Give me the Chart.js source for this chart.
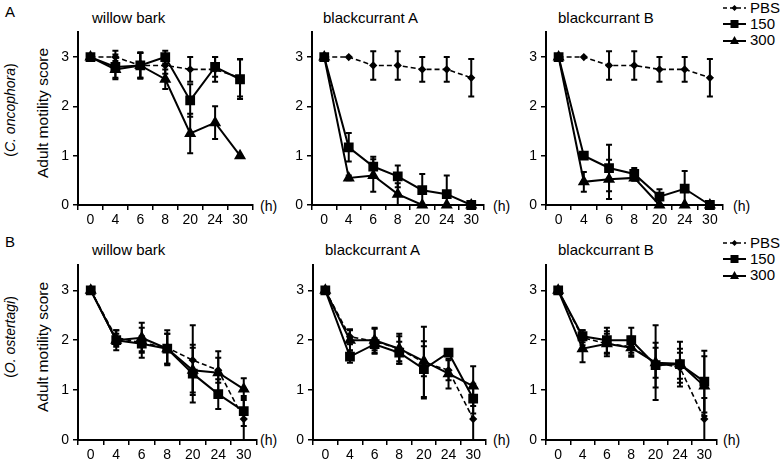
<!DOCTYPE html>
<html>
<head>
<meta charset="utf-8">
<script src="https://cdn.jsdelivr.net/npm/chart.js@4"></script>
<style>
  body { margin: 0; background: #fff; }
  #wrap { position: relative; width: 780px; height: 460px; overflow: hidden; font-family: "Liberation Sans", Arial, sans-serif; color: #000; }
  canvas { position: absolute; }
  .t { position: absolute; white-space: nowrap; }
  .ttl { font-size: 15px; }
  .ylab { transform: translate(-50%, -50%) rotate(-90deg); }
  .h { font-size: 14px; line-height: 16px; }
  .leg { position: absolute; font-size: 15px; line-height: 16px; }
  .leg div { display: flex; align-items: center; height: 16px; }
  .leg svg { margin-right: 3px; }
</style>
</head>
<body>
<div id="wrap">
  <div class="t" style="left:5px;top:3px;font-size:15px">A</div>
  <div class="t" style="left:5px;top:233px;font-size:15px">B</div>

  <div class="t ylab" style="left:10px;top:110px;font-size:14px">(<i>C. oncophora</i>)</div>
  <div class="t ylab" style="left:43px;top:113px;font-size:15.5px">Adult motility score</div>
  <div class="t ylab" style="left:10px;top:337px;font-size:14px">(<i>O. ostertagi</i>)</div>
  <div class="t ylab" style="left:43px;top:347px;font-size:15.5px">Adult motility score</div>

  <div class="t ttl" style="left:92px;top:9px">willow bark</div>
  <div class="t ttl" style="left:323px;top:9px">blackcurrant A</div>
  <div class="t ttl" style="left:558px;top:9px">blackcurrant B</div>
  <div class="t ttl" style="left:92px;top:241px">willow bark</div>
  <div class="t ttl" style="left:325px;top:241px">blackcurrant A</div>
  <div class="t ttl" style="left:558px;top:241px">blackcurrant B</div>

  <div class="t h" style="left:260px;top:198px">(h)</div>
  <div class="t h" style="left:493px;top:198px">(h)</div>
  <div class="t h" style="left:733px;top:198px">(h)</div>
  <div class="t h" style="left:260px;top:432px">(h)</div>
  <div class="t h" style="left:493px;top:432px">(h)</div>
  <div class="t h" style="left:723px;top:432px">(h)</div>

  <div class="leg" id="leg1" style="left:722px;top:0px"></div>
  <div class="leg" id="leg2" style="left:722px;top:235px"></div>
</div>
<script>
const hours = ['0', '4', '6', '8', '20', '24', '30'];
const seriesNames = ['PBS', '150', '300'];

// C. oncophora
const willowC_pbs = [3, 3, 2.83, 2.83, 2.75, 2.75, 2.58];
const willowC_pbsErr = [0, 0.13, 0.25, 0.17, 0.25, 0.25, 0.38];
const willowC_150 = [3, 2.8, 2.83, 3, 2.12, 2.8, 2.55];
const willowC_150Err = [0, 0.25, 0.27, 0.13, 0.33, 0.2, 0.4];
const willowC_300 = [3, 2.75, 2.83, 2.55, 1.45, 1.67, 1.0];
const willowC_300Err = [0, 0.17, 0.25, 0.2, 0.4, 0.33, 0];

const bcAC_pbs = [3, 3, 2.83, 2.83, 2.75, 2.75, 2.58];
const bcAC_pbsErr = [0, 0, 0.29, 0.29, 0.25, 0.25, 0.38];
const bcAC_150 = [3, 1.17, 0.78, 0.58, 0.3, 0.22, 0];
const bcAC_150Err = [0, 0.29, 0.2, 0.22, 0.33, 0.38, 0];
const bcAC_300 = [3, 0.55, 0.6, 0.22, 0, 0, 0];
const bcAC_300Err = [0, 0.05, 0.33, 0.22, 0, 0, 0];

const bcBC_pbs = [3, 3, 2.83, 2.83, 2.75, 2.75, 2.58];
const bcBC_pbsErr = [0, 0, 0.29, 0.29, 0.25, 0.25, 0.38];
const bcBC_150 = [3, 1.0, 0.75, 0.63, 0.17, 0.33, 0];
const bcBC_150Err = [0, 0, 0.47, 0.12, 0.15, 0.36, 0];
const bcBC_300 = [3, 0.47, 0.52, 0.55, 0, 0, 0];
const bcBC_300Err = [0, 0.2, 0.4, 0.06, 0, 0, 0];

// O. ostertagi
const willowO_pbs = [3, 2.05, 1.95, 1.85, 1.6, 1.4, 0.42];
const willowO_pbsErr = [0, 0.15, 0.3, 0.35, 0.7, 0.25, 0.42];
const willowO_150 = [3, 2.0, 1.93, 1.83, 1.33, 0.92, 0.58];
const willowO_150Err = [0, 0.13, 0.15, 0.3, 0.58, 0.3, 0.3];
const willowO_300 = [3, 2.0, 2.05, 1.83, 1.4, 1.35, 1.02];
const willowO_300Err = [0, 0.2, 0.3, 0.3, 0.45, 0.43, 0.22];

const bcAO_pbs = [3, 2.07, 1.98, 1.83, 1.55, 1.4, 0.42];
const bcAO_pbsErr = [0, 0.15, 0.25, 0.3, 0.72, 0.2, 0.42];
const bcAO_150 = [3, 1.67, 1.92, 1.75, 1.42, 1.75, 0.83];
const bcAO_150Err = [0, 0.12, 0.12, 0.22, 0.56, 0, 0.3];
const bcAO_300 = [3, 2.0, 2.0, 1.83, 1.58, 1.33, 1.08];
const bcAO_300Err = [0, 0.2, 0.25, 0.25, 0.3, 0.3, 0.4];

const bcBO_pbs = [3, 2.05, 1.93, 1.87, 1.55, 1.45, 0.42];
const bcBO_pbsErr = [0, 0.15, 0.25, 0.2, 0.75, 0.3, 0.42];
const bcBO_150 = [3, 2.08, 2.0, 2.0, 1.5, 1.52, 1.17];
const bcBO_150Err = [0, 0.12, 0.25, 0.25, 0.45, 0.45, 0.62];
const bcBO_300 = [3, 1.83, 1.93, 1.85, 1.55, 1.53, 1.08];
const bcBO_300Err = [0, 0.27, 0.2, 0.15, 0.3, 0.3, 0.6];

Chart.defaults.font.family = '"Liberation Sans", Arial, sans-serif';
Chart.defaults.font.size = 14;
Chart.defaults.color = '#000';

// vertical error bars with caps, drawn through the y scale
const errorBars = {
  id: 'errorBars',
  afterDatasetsDraw(chart) {
    const ctx = chart.ctx;
    const y = chart.scales.y;
    chart.data.datasets.forEach((ds, i) => {
      const meta = chart.getDatasetMeta(i);
      ctx.save();
      ctx.strokeStyle = '#000';
      ctx.lineWidth = 2;
      meta.data.forEach((pt, j) => {
        const e = ds.err[j];
        if (!e) return;
        const top = y.getPixelForValue(ds.data[j] + e);
        const bot = y.getPixelForValue(Math.max(0, ds.data[j] - e));
        ctx.beginPath();
        ctx.moveTo(pt.x, top); ctx.lineTo(pt.x, bot);
        ctx.moveTo(pt.x - 3, top); ctx.lineTo(pt.x + 3, top);
        ctx.moveTo(pt.x - 3, bot); ctx.lineTo(pt.x + 3, bot);
        ctx.stroke();
      });
      ctx.restore();
    });
  }
};

function makePanel(left, top, w, h, pbs, pbsErr, s150, s150Err, s300, s300Err) {
  const cv = document.createElement('canvas');
  const cw = 40 + w + 6, ch = 8 + h + 28;
  cv.width = cw; cv.height = ch;
  cv.style.left = (left - 40) + 'px';
  cv.style.top = (top - 8) + 'px';
  cv.style.width = cw + 'px';
  cv.style.height = ch + 'px';
  document.getElementById('wrap').appendChild(cv);

  new Chart(cv, {
    type: 'line',
    data: {
      labels: hours,
      datasets: [
        { label: seriesNames[0], data: pbs, err: pbsErr, borderColor: '#000', backgroundColor: '#000',
          borderWidth: 1.6, borderDash: [5, 3], pointStyle: 'rectRot', pointRadius: 3, clip: 10 },
        { label: seriesNames[1], data: s150, err: s150Err, borderColor: '#000', backgroundColor: '#000',
          borderWidth: 2, pointStyle: 'rect', pointRadius: 5.5, clip: 10 },
        { label: seriesNames[2], data: s300, err: s300Err, borderColor: '#000', backgroundColor: '#000',
          borderWidth: 2, pointStyle: 'triangle', pointRadius: 5, clip: 10 }
      ]
    },
    options: {
      responsive: false,
      animation: false,
      layout: { padding: { top: 8, right: 6, left: 0, bottom: 0 } },
      plugins: { legend: { display: false }, tooltip: { enabled: false } },
      scales: {
        x: {
          offset: true,
          grid: { offset: true, drawOnChartArea: false, tickLength: 5, color: '#000', lineWidth: 1.5 },
          border: { color: '#000', width: 2 },
          ticks: { padding: 2, autoSkip: false, maxRotation: 0 },
          afterFit(s) { s.height = 28; }
        },
        y: {
          min: 0, max: 3.5,
          grid: { drawOnChartArea: false, tickLength: 5, color: '#000', lineWidth: 1.5 },
          border: { color: '#000', width: 2 },
          ticks: { stepSize: 1, padding: 4 },
          afterBuildTicks(s) { s.ticks = s.ticks.filter(t => Number.isInteger(t.value)); },
          afterFit(s) { s.width = 40; }
        }
      }
    },
    plugins: [errorBars]
  });
}

makePanel(78, 28, 176, 177, willowC_pbs, willowC_pbsErr, willowC_150, willowC_150Err, willowC_300, willowC_300Err);
makePanel(312, 28, 173, 177, bcAC_pbs, bcAC_pbsErr, bcAC_150, bcAC_150Err, bcAC_300, bcAC_300Err);
makePanel(546, 28, 178, 177, bcBC_pbs, bcBC_pbsErr, bcBC_150, bcBC_150Err, bcBC_300, bcBC_300Err);
makePanel(78, 261, 180, 179, willowO_pbs, willowO_pbsErr, willowO_150, willowO_150Err, willowO_300, willowO_300Err);
makePanel(313, 261, 174, 179, bcAO_pbs, bcAO_pbsErr, bcAO_150, bcAO_150Err, bcAO_300, bcAO_300Err);
makePanel(546, 261, 172, 179, bcBO_pbs, bcBO_pbsErr, bcBO_150, bcBO_150Err, bcBO_300, bcBO_300Err);

// legend entries
const legIcons = [
  '<svg width="25" height="10"><line x1="1" y1="5" x2="24" y2="5" stroke="#000" stroke-width="1.6" stroke-dasharray="4,3"/><polygon points="12.5,2 15.5,5 12.5,8 9.5,5" fill="#000"/></svg>',
  '<svg width="25" height="10"><line x1="1" y1="5" x2="24" y2="5" stroke="#000" stroke-width="2"/><rect x="8.5" y="1" width="8" height="8" fill="#000"/></svg>',
  '<svg width="25" height="10"><line x1="1" y1="6" x2="24" y2="6" stroke="#000" stroke-width="2"/><polygon points="12.5,1 17,9 8,9" fill="#000"/></svg>'
];
['leg1', 'leg2'].forEach(id => {
  document.getElementById(id).innerHTML = seriesNames
    .map((n, i) => '<div>' + legIcons[i] + '<span>' + n + '</span></div>').join('');
});
</script>
</body>
</html>
